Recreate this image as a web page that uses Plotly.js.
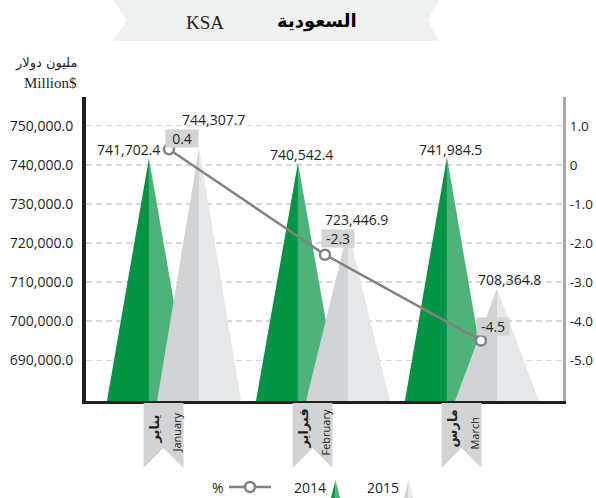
<!DOCTYPE html>
<html><head><meta charset="utf-8">
<script src="https://cdn.plot.ly/plotly-3.0.1.min.js"></script>
<style>html,body{margin:0;padding:0;background:#fff;}#chart{width:596px;height:498px;}</style>
</head><body><div id="chart"></div>
<script>
// ---------- data ----------
const monthsEn = ['January', 'February', 'March'];
const monthsAr = ['يناير', 'فبراير', 'مارس'];
const values2014 = [741702.4, 740542.4, 741984.5];
const values2015 = [744307.7, 723446.9, 708364.8];
const pctChange = [0.4, -2.3, -4.5];
const leftTickVals = [690000, 700000, 710000, 720000, 730000, 740000, 750000];
const rightTickVals = [1, 0, -1, -2, -3, -4, -5];
const rightTickText = ['1.0', '0', '-1.0', '-2.0', '-3.0', '-4.0', '-5.0'];
const seriesNames = ['2014', '2015'];
const pctName = '%';
const titleEn = 'KSA';
const titleAr = 'السعودية';
const unitAr = 'مليون دولار';
const unitEn = 'Million$';

// ---------- geometry / style ----------
const W = 596, H = 498, L = 86, R = 563, T = 97, B = 401;
const yRange = [679529, 757398];
const y2Range = [(yRange[0] - 740000) / 10000, (yRange[1] - 740000) / 10000];
const xRange = [-0.5906, 2.611];
const x2Range = [-0.532, 2.526];
const px = x => (x - L) / (R - L);
const py = y => (B - y) / (B - T);
const FONT = 'Open Sans, Noto Sans, sans-serif';
const TXT = '#231f20';
const series = [
  {vals: values2014, off: -0.168, dark: '#009444', light: '#4cb277'},
  {vals: values2015, off: 0.168, dark: '#d1d3d4', light: '#e6e7e8'}
];
const HW = 0.282;
const base = yRange[0];

const traces = [];
series.forEach(s => {
  s.vals.forEach((v, i) => {
    const c = i + s.off;
    traces.push({x: [c - HW, c, c, c - HW], y: [base, v, base, base], mode: 'lines', fill: 'toself',
      fillcolor: s.dark, line: {width: 0, color: s.dark}, hoverinfo: 'skip', showlegend: false});
    traces.push({x: [c, c + HW, c, c], y: [v, base, base, v], mode: 'lines', fill: 'toself',
      fillcolor: s.light, line: {width: 0, color: s.light}, hoverinfo: 'skip', showlegend: false});
  });
});
traces.push({x: pctChange.map((p, i) => i), y: pctChange, xaxis: 'x2', yaxis: 'y2', mode: 'lines+markers',
  line: {color: '#808285', width: 2.5},
  marker: {size: 10, color: '#ffffff', line: {color: '#808285', width: 2.5}},
  hoverinfo: 'skip', showlegend: false});

const fmt = v => v.toLocaleString('en-US', {minimumFractionDigits: 1, maximumFractionDigits: 1});

const annotations = [];
const shapes = [];
const ann = o => annotations.push(Object.assign({showarrow: false, xanchor: 'center', yanchor: 'middle'}, o));

// value labels
const shift2014 = [[-20, 9], [4, 8], [4, 8]];
const shift2015 = [[14, 29], [8, 10], [12, 9]];
values2014.forEach((v, i) => ann({x: i + series[0].off, y: v, xref: 'x', yref: 'y', text: fmt(v),
  xshift: shift2014[i][0], yshift: shift2014[i][1], font: {family: FONT, size: 14, color: TXT}}));
values2015.forEach((v, i) => ann({x: i + series[1].off, y: v, xref: 'x', yref: 'y', text: fmt(v),
  xshift: shift2015[i][0], yshift: shift2015[i][1], font: {family: FONT, size: 14, color: TXT}}));
// pct labels
const shiftPct = [[13, 11], [13, 16], [12, 14]];
pctChange.forEach((p, i) => ann({x: i, y: p, xref: 'x2', yref: 'y2', text: p.toFixed(1),
  xshift: shiftPct[i][0], yshift: shiftPct[i][1], bgcolor: '#d1d3d4', width: 30, height: 15,
  font: {family: FONT, size: 14, color: TXT}}));

// month ribbons
monthsEn.forEach((m, i) => {
  const xc = i - 0.07, hw = 0.134;
  shapes.push({type: 'path', xref: 'x', yref: 'paper', layer: 'above',
    path: `M ${xc - hw},${py(403)} L ${xc + hw},${py(403)} L ${xc + hw},${py(468)} L ${xc},${py(448)} L ${xc - hw},${py(468)} Z`,
    fillcolor: '#d1d3d4', line: {width: 0}});
  ann({x: xc, y: py(433), xref: 'x', yref: 'paper', text: m, textangle: -90,
    xshift: 13, font: {family: FONT, size: 11, color: TXT}});
  ann({x: xc, y: py(429), xref: 'x', yref: 'paper', text: '<b>' + monthsAr[i] + '</b>', textangle: -90,
    xshift: -10, font: {family: 'DejaVu Sans, Noto Sans, sans-serif', size: 13, color: TXT}});
});

// title banner
shapes.push({type: 'path', xref: 'paper', yref: 'paper', layer: 'below',
  path: `M ${px(113)},${py(0)} L ${px(439)},${py(0)} L ${px(428)},${py(20.5)} L ${px(439)},${py(41)} L ${px(113)},${py(41)} L ${px(127)},${py(20.5)} Z`,
  fillcolor: '#eff0f0', line: {width: 0}});
ann({x: px(205), y: py(22), xref: 'paper', yref: 'paper', text: titleEn,
  font: {family: 'Liberation Serif, serif', size: 19, color: TXT}});
ann({x: px(317), y: py(21), xref: 'paper', yref: 'paper', text: '<b>' + titleAr + '</b>',
  font: {family: 'DejaVu Sans, sans-serif', size: 18, color: '#000'}});
// unit titles
ann({x: px(79), y: py(63), xref: 'paper', yref: 'paper', xanchor: 'right', text: unitAr,
  font: {family: 'DejaVu Sans, sans-serif', size: 13, color: TXT}});
ann({x: px(79), y: py(83), xref: 'paper', yref: 'paper', xanchor: 'right', text: unitEn,
  font: {family: 'Liberation Serif, serif', size: 15, color: TXT}});

// legend
ann({x: px(218), y: py(487), xref: 'paper', yref: 'paper', text: pctName,
  font: {family: FONT, size: 14, color: TXT}});
shapes.push({type: 'line', xref: 'paper', yref: 'paper', x0: px(229), x1: px(271), y0: py(487), y1: py(487),
  line: {color: '#808285', width: 2.5}});
shapes.push({type: 'circle', xref: 'paper', yref: 'paper', x0: px(245), x1: px(255), y0: py(482), y1: py(492),
  fillcolor: '#ffffff', line: {color: '#808285', width: 2.5}});
[[310, 331, 340], [383, 404, 413]].forEach((g, k) => {
  ann({x: px(g[0]), y: py(487), xref: 'paper', yref: 'paper', text: seriesNames[k],
    font: {family: FONT, size: 14, color: TXT}});
  const mid = (g[1] + g[2]) / 2;
  shapes.push({type: 'path', xref: 'paper', yref: 'paper',
    path: `M ${px(g[1])},${py(498)} L ${px(mid)},${py(480)} L ${px(mid)},${py(498)} Z`,
    fillcolor: series[k].dark, line: {width: 0}});
  shapes.push({type: 'path', xref: 'paper', yref: 'paper',
    path: `M ${px(mid)},${py(498)} L ${px(mid)},${py(480)} L ${px(g[2])},${py(498)} Z`,
    fillcolor: series[k].light, line: {width: 0}});
});

const layout = {
  width: W, height: H,
  margin: {l: L, r: W - R, t: T, b: H - B, pad: 0},
  paper_bgcolor: '#ffffff', plot_bgcolor: '#ffffff',
  showlegend: false, hovermode: false,
  xaxis: {range: xRange, showticklabels: false, showgrid: false, zeroline: false, ticks: '',
    showline: true, linecolor: TXT, linewidth: 3, fixedrange: true},
  xaxis2: {range: x2Range, overlaying: 'x', visible: false, fixedrange: true},
  yaxis: {range: yRange, tickvals: leftTickVals, ticktext: leftTickVals.map(fmt), ticks: '',
    showline: true, linecolor: TXT, linewidth: 4, zeroline: false,
    showgrid: true, gridcolor: '#d7d8d9', gridwidth: 1.2, griddash: '6px,4px',
    tickfont: {family: FONT, size: 14, color: TXT}, ticklabelstandoff: 6, fixedrange: true},
  yaxis2: {range: y2Range, overlaying: 'y', side: 'right', anchor: 'x', tickvals: rightTickVals, ticktext: rightTickText,
    ticks: '', showline: true, linecolor: '#a7a9ac', linewidth: 3, showgrid: false, zeroline: false,
    tickfont: {family: FONT, size: 13.5, color: TXT}, ticklabelstandoff: 1, fixedrange: true},
  shapes: shapes,
  annotations: annotations
};

Plotly.newPlot('chart', traces, layout, {displayModeBar: false, staticPlot: true});
</script>
</body></html>
